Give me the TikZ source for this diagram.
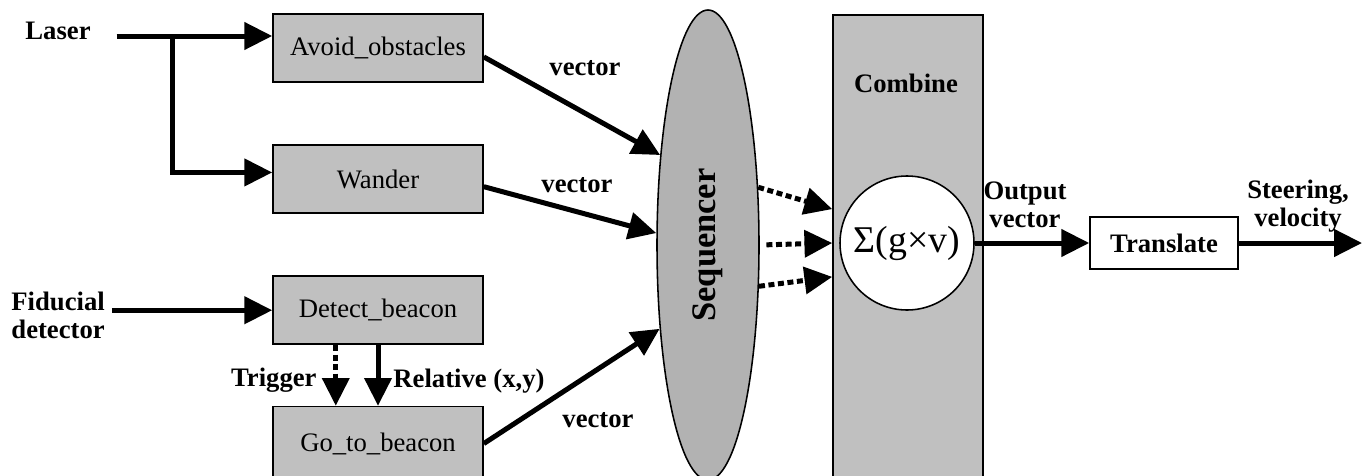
\documentclass[tikz,border=0pt]{standalone}
\usepackage{fontspec}
\setmainfont{Liberation Serif}
\usetikzlibrary{shapes,arrows.meta,calc}
\definecolor{boxgray}{RGB}{192,192,192}
\definecolor{seqgray}{RGB}{178,178,178}
\tikzstyle{block} = [draw, fill=boxgray, line width=0.7pt, minimum width=94.5pt, minimum height=30.6pt, font=\fontsize{12pt}{14pt}\selectfont]
\tikzstyle{lbl} = [inner sep=0pt, font=\fontsize{12pt}{12.5pt}\selectfont\bfseries]
\tikzstyle{dots} = [dash pattern=on 2.7pt off 1.6pt]

\begin{document}
\begin{tikzpicture}[x=0.45pt,y=-0.45pt,>={Triangle[length=12.5pt,width=12pt]},node distance=59pt]
  \useasboundingbox (0,0) rectangle (1371,475);
  \clip (0,0) rectangle (1371,475);

  % behaviours
  \node[block] (avoid) at (378,48) {Avoid\_obstacles};
  \node[block,below of=avoid] (wander) {Wander};
  \node[block,below of=wander] (detect) {Detect\_beacon};
  \node[block,below of=detect,node distance=60pt,minimum height=33.3pt] (goto) {Go\_to\_beacon};

  % sensors
  \node[lbl,anchor=base west] (laser) at (25,39) {Laser};
  \node[lbl,anchor=west,align=left] (fiducial) at (11,315) {Fiducial\\detector};
  \coordinate (split) at (172,36);

  % sequencer, combiner and output stage
  \node[draw,ellipse,fill=seqgray,line width=0.7pt,minimum width=45.9pt,minimum height=211.5pt,inner sep=0pt,
        font=\fontsize{15.5pt}{16pt}\selectfont\bfseries] (seq) at (708,245) {\rotatebox{90}{Sequencer}};
  \node[draw,fill=boxgray,line width=0.7pt,minimum width=67.5pt,minimum height=218pt] (combine) at (908,257) {};
  \node[lbl,anchor=base] (combinelbl) at (906,92) {Combine};
  \node[draw,circle,fill=white,line width=0.7pt,minimum size=60.3pt,inner sep=0pt,
        font=\fontsize{17pt}{18pt}\selectfont] (sum) at (907,243) {Σ(g×v)};
  \node[draw,fill=white,line width=0.7pt,minimum width=66.6pt,minimum height=23.4pt,
        font=\fontsize{12pt}{14pt}\selectfont\bfseries] (transl) at (1164,243) {Translate};
  \coordinate (motors) at (1362,243);

  % labels
  \node[lbl,anchor=base] (vec1) at (585,75) {vector};
  \node[lbl,anchor=base] (vec2) at (577,192) {vector};
  \node[lbl,anchor=base] (vec3) at (598,427) {vector};
  \node[lbl,anchor=base east] (trigger) at (317,386) {Trigger};
  \node[lbl,anchor=base west] (relxy) at (393,387) {Relative (x,y)};
  \node[lbl,align=center] (outvec) at (1025,205) {Output\\vector};
  \node[lbl,align=center] (steer) at (1298,206) {Steering,\\velocity};

  \begin{scope}[every path/.style={draw,line width=2.25pt}]
    \path[->,shorten <=11.5pt] (laser.east |- split) -- (split -| avoid.west);
    \path[->] (split) |- ([yshift=3pt]wander.west);
    \path[->,shorten <=3pt] (fiducial.east |- detect.west) -- (detect.west);
    \path[->] (detect.south) -- (goto.north);
    \path[->,dots] ([xshift=-19pt]detect.south) -- ([xshift=-19pt]goto.north);
    \path[->] ([yshift=-4pt]avoid.east) -- (seq.118);
    \path[->] ([yshift=-3.4pt]wander.east) -- (seq.167);
    \path[->] (goto.east) -- (seq.240);
    \path[->,dots] (seq.49) -- (combine.west |- sum.150);
    \path[->,dots,shorten <=3pt] (seq.east) -- (combine.west |- sum.west);
    \path[->,dots] (seq.-39) -- (combine.west |- sum.210);
    \path[->] (sum.east) -- (transl.west);
    \path[->] (transl.east) -- (motors);
  \end{scope}

\end{tikzpicture}
\end{document}
